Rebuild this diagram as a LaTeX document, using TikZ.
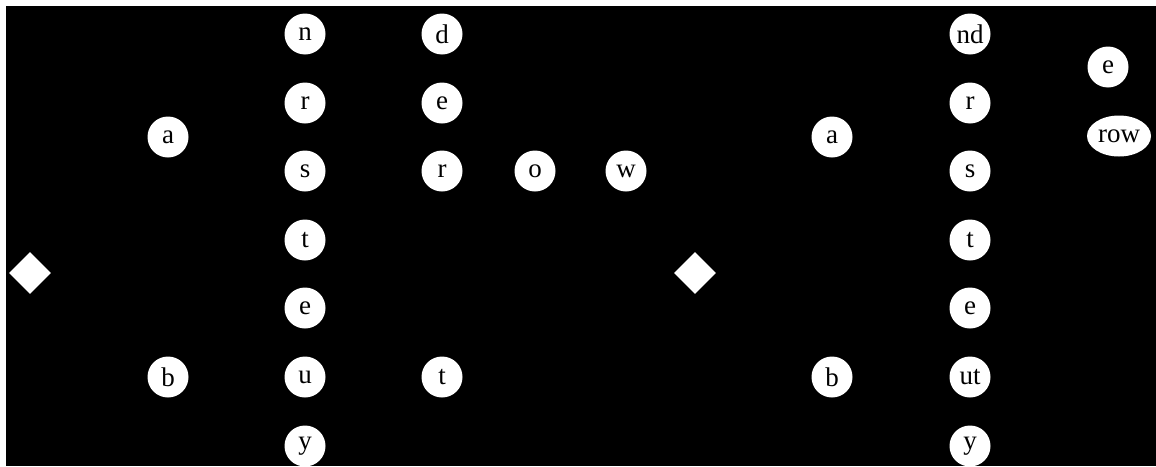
\documentclass[tikz,border=0pt]{standalone}
\usepackage{fontspec}
\setmainfont{Liberation Serif}
\usetikzlibrary{shapes.geometric}
\begin{document}
\begin{tikzpicture}[x=1pt,y=-1pt,
  cnode/.style={circle,fill=white,draw=none,inner sep=0pt,minimum size=41pt,font=\fontsize{27}{30}\selectfont,text=black},
  enode/.style={ellipse,fill=white,draw=none,inner sep=0pt,minimum width=64pt,minimum height=41pt,font=\fontsize{27}{30}\selectfont,text=black},
  root/.style={diamond,fill=white,draw=none,inner sep=0pt,minimum size=42pt}]
\useasboundingbox (0,0) rectangle (1156,466);
\fill[white] (0,0) rectangle (1156,466);
\fill[black] (6,6) rectangle (1156,466);
% left tree
\node[root] (L0) at (30,273) {};
\node[cnode] (La) at (168,137) {a};
\node[cnode] (Lb) at (168,377) {b};
\node[cnode] (Ln) at (305,34) {n};
\node[cnode] (Lr) at (305,103) {r};
\node[cnode] (Ls) at (305,171) {s};
\node[cnode] (Lt) at (305,240) {t};
\node[cnode] (Le) at (305,308) {e};
\node[cnode] (Lu) at (305,377) {u};
\node[cnode] (Ly) at (305,446) {y};
\node[cnode] (Ld) at (442,34) {d};
\node[cnode] (Lre) at (442,103) {e};
\node[cnode] (Lrr) at (442,171) {r};
\node[cnode] (Lut) at (442,377) {t};
\node[cnode] (Lo) at (535,171) {o};
\node[cnode] (Lw) at (626,171) {w};
% right tree
\node[root] (R0) at (695,273) {};
\node[cnode] (Ra) at (832,137) {a};
\node[cnode] (Rb) at (832,377) {b};
\node[cnode] (Rnd) at (970,34) {nd};
\node[cnode] (Rr) at (970,103) {r};
\node[cnode] (Rs) at (970,171) {s};
\node[cnode] (Rt) at (970,240) {t};
\node[cnode] (Re) at (970,308) {e};
\node[cnode] (Rut) at (970,377) {ut};
\node[cnode] (Ry) at (970,446) {y};
\node[cnode] (Rre) at (1108,67) {e};
\node[enode] (Rrow) at (1119,136) {row};
\end{tikzpicture}
\end{document}
